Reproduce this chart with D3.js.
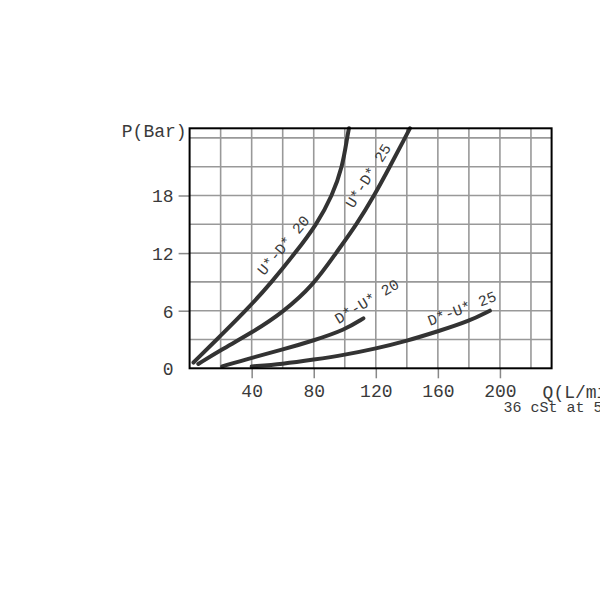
<!DOCTYPE html>
<html>
<head>
<meta charset="utf-8">
<script src="https://cdn.jsdelivr.net/npm/d3@7"></script>
<style>
  body { margin: 0; background: #fff; }
  text { font-family: "Courier New", "Liberation Mono", monospace; fill: #3a3a3a; }
</style>
</head>
<body>
<div id="chart"></div>
<script>
// flow Q (L/min) and pressure P (bar)
var udQ20 = [2.5, 17.5, 37.5, 53, 68, 82, 92, 98.5, 101.5, 102.7];
var udP20 = [0.6, 3, 6.2, 9, 12, 15, 18, 21, 24, 25];

var udQ25 = [5.6, 20, 40, 60, 80, 94.3, 107.7, 119, 129, 138.8, 142];
var udP25 = [0.45, 1.9, 3.7, 5.8, 8.7, 12, 15, 18, 21, 24, 25];

var duQ20 = [21, 40, 60, 80, 100, 112];
var duP20 = [0.2, 1.1, 1.95, 2.9, 4.0, 5.2];

var duQ25 = [40, 60, 80, 100, 120, 140, 160, 180, 193.5];
var duP25 = [0.2, 0.45, 0.9, 1.4, 2.05, 2.85, 3.85, 4.9, 6.0];

var curveNames = ["U*-D* 20", "U*-D* 25", "D*-U* 20", "D*-U* 25"];
// label anchor (Q, P) and angle for each curve name
var labelQ = [48, 105.5, 96, 155];
var labelP = [9.6, 16.6, 4.6, 4.4];
var labelAngle = [-50, -58, -31, -21];

var xTicks = [40, 80, 120, 160, 200];
var yTicks = [0, 6, 12, 18];
var xGrid = [20, 40, 60, 80, 100, 120, 140, 160, 180, 200, 220];
var yGrid = [3, 6, 9, 12, 15, 18, 21, 24];

var svgWidth = 600;
var svgHeight = 600;
var margin = { top: 128.3, left: 189.6 };
var width = 362;
var height = 240;

var svg = d3.select("#chart")
  .append("svg")
  .attr("width", svgWidth)
  .attr("height", svgHeight);

var chartGroup = svg.append("g")
  .attr("transform", `translate(${margin.left}, ${margin.top})`);

var xScale = d3.scaleLinear().domain([0, 233.3]).range([0, width]);
var yScale = d3.scaleLinear().domain([0, 25]).range([height, 0]);

// grid
chartGroup.append("g").selectAll("line")
  .data(xGrid)
  .enter()
  .append("line")
  .attr("x1", d => xScale(d))
  .attr("x2", d => xScale(d))
  .attr("y1", 0)
  .attr("y2", height)
  .attr("stroke", "#999")
  .attr("stroke-width", 1.6);

chartGroup.append("g").selectAll("line")
  .data(yGrid)
  .enter()
  .append("line")
  .attr("x1", 0)
  .attr("x2", width)
  .attr("y1", d => yScale(d))
  .attr("y2", d => yScale(d))
  .attr("stroke", "#999")
  .attr("stroke-width", 1.6);

// axes
var xAxis = d3.axisBottom(xScale).tickValues(xTicks).tickSize(10).tickPadding(6);
var yAxis = d3.axisLeft(yScale).tickValues(yTicks).tickSize(11).tickPadding(5);

var xg = chartGroup.append("g")
  .attr("transform", `translate(0, ${height})`)
  .call(xAxis);
var yg = chartGroup.append("g").call(yAxis);

[xg, yg].forEach(function(g) {
  g.select(".domain").remove();
  g.selectAll("line").attr("stroke", "#888").attr("stroke-width", 1.5);
  g.selectAll("text")
    .attr("fill", "#3a3a3a")
    .style("font-size", "18px")
    .style("font-family", "'Courier New', 'Liberation Mono', monospace");
});
yg.selectAll(".tick").filter(d => d === 0).select("line").remove();
yg.selectAll("text").attr("dy", "0.35em");

// curves
var line = d3.line()
  .x(d => xScale(d[0]))
  .y(d => yScale(d[1]))
  .curve(d3.curveBasis);

var series = [
  d3.zip(udQ20, udP20),
  d3.zip(udQ25, udP25),
  d3.zip(duQ20, duP20),
  d3.zip(duQ25, duP25)
];

chartGroup.append("g").selectAll("path")
  .data(series)
  .enter()
  .append("path")
  .attr("d", line)
  .attr("fill", "none")
  .attr("stroke", "#333")
  .attr("stroke-width", 4)
  .attr("stroke-linecap", "round");

// plot border
chartGroup.append("rect")
  .attr("width", width)
  .attr("height", height)
  .attr("fill", "none")
  .attr("stroke", "#000")
  .attr("stroke-width", 2);

// curve names
chartGroup.append("g").selectAll("text")
  .data(curveNames)
  .enter()
  .append("text")
  .attr("transform", (d, i) => `translate(${xScale(labelQ[i])},${yScale(labelP[i])})rotate(${labelAngle[i]})`)
  .attr("font-size", 15)
  .text(d => d);

// axis titles
chartGroup.append("text")
  .attr("x", -3)
  .attr("y", 8.5)
  .attr("text-anchor", "end")
  .attr("font-size", 18)
  .text("P(Bar)");

chartGroup.append("text")
  .attr("x", 353)
  .attr("y", height + 30)
  .attr("font-size", 18)
  .text("Q(L/min)");

chartGroup.append("text")
  .attr("x", 314)
  .attr("y", height + 43.5)
  .attr("font-size", 15)
  .text("36 cSt at 50°C");
</script>
</body>
</html>
